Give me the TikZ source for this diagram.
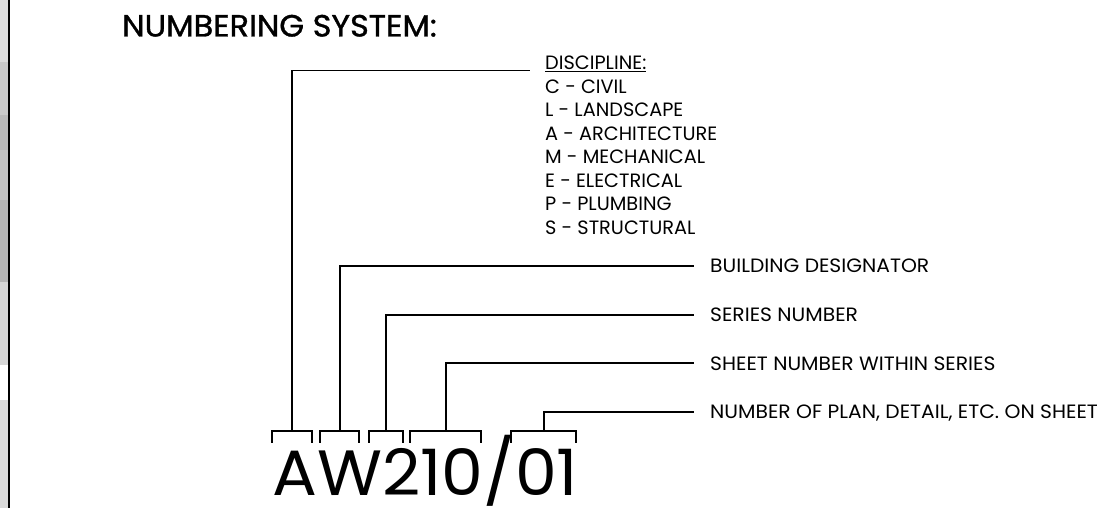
\documentclass[tikz,border=0pt]{standalone}
\usepackage{fontspec}
\setmainfont{Poppins}
\newfontfamily\titlefont[FakeStretch=1.04,FakeBold=1.2]{Poppins}
\newfontfamily\lblfont{Poppins}
\newfontfamily\rlblfont[FakeStretch=1.05]{Poppins}
\newfontfamily\codefont[FakeStretch=1.04]{Poppins}
\begin{document}
\begin{tikzpicture}[x=1pt,y=-1pt,
  lead/.style={line width=1.8pt, line cap=rect},
  brk/.style={line width=1.8pt},
  lbl/.style={inner sep=0pt, anchor=base west, font=\lblfont\fontsize{19.3}{23.5}\selectfont},
  rlbl/.style={inner sep=0pt, anchor=base west, font=\rlblfont\fontsize{19.3}{23.5}\selectfont},
  ttl/.style={inner sep=0pt, anchor=base west, font=\titlefont\fontsize{30.7}{36}\selectfont},
  code/.style={inner sep=0pt, anchor=base west, text depth=0pt, font=\codefont\fontsize{64}{70}\selectfont}]
\useasboundingbox (0,0) rectangle (1106,508);
\fill[white] (0,0) rectangle (1106,508);
% left strip
\fill[gray!28] (0,0) rectangle (9,62);
\fill[gray!42] (0,62) rectangle (9,115);
\fill[gray!55] (0,115) rectangle (9,150);
\fill[gray!48] (0,150) rectangle (9,200);
\fill[gray!58] (0,200) rectangle (9,282);
\fill[gray!32] (0,282) rectangle (9,365);
\fill[gray!30] (0,400) rectangle (9,508);
\draw[line width=1.5pt] (9,0) -- (9,508);
% title
\node[ttl] (title) at (122,36.5) {NUMBERING SYSTEM:};
% code
\node[code] (code) at (272,495) {AW210/01};
% brackets
\draw[brk] (272,442.7) -- (272,430.7) -- (311.7,430.7) -- (311.7,442.7);
\draw[brk] (320,442.7) -- (320,430.7) -- (359,430.7) -- (359,442.7);
\draw[brk] (369,442.7) -- (369,430.7) -- (402.7,430.7) -- (402.7,442.7);
\draw[brk] (410,442.7) -- (410,430.7) -- (481,430.7) -- (481,442.7);
\draw[brk] (510.7,442.7) -- (510.7,430.7) -- (576,430.7) -- (576,442.7);
\coordinate (k1) at (291.8,430.7);
\coordinate (k2) at (340,430.7);
\coordinate (k3) at (386,430.7);
\coordinate (k4) at (445.7,430.7);
\coordinate (k5) at (544,430.7);
% discipline list
\node[lbl] (d0) at (545,70) {\underline{DISCIPLINE:}};
\foreach \t [count=\i] in {C - CIVIL, L - LANDSCAPE, A - ARCHITECTURE, M - MECHANICAL, E - ELECTRICAL, P - PLUMBING, S - STRUCTURAL}
  \node[lbl] (d\i) at (545,70+23.5*\i) {\t};
% other labels
\node[rlbl] (bd) at (710,272.7) {BUILDING DESIGNATOR};
\node[rlbl] (sn) at (710,321.4) {SERIES NUMBER};
\node[rlbl] (sw) at (710,370) {SHEET NUMBER WITHIN SERIES};
\node[rlbl] (np) at (710,418.7) {NUMBER OF PLAN, DETAIL, ETC. ON SHEET};
% leader ends
\coordinate (e1) at (529,70.5);
\coordinate (e2) at (693,266);
\coordinate (e3) at (693,314.7);
\coordinate (e4) at (693,363.3);
\coordinate (e5) at (693,412);
\draw[lead] (k1) |- (e1);
\draw[lead] (k2) |- (e2);
\draw[lead] (k3) |- (e3);
\draw[lead] (k4) |- (e4);
\draw[lead] (k5) |- (e5);
\end{tikzpicture}
\end{document}
